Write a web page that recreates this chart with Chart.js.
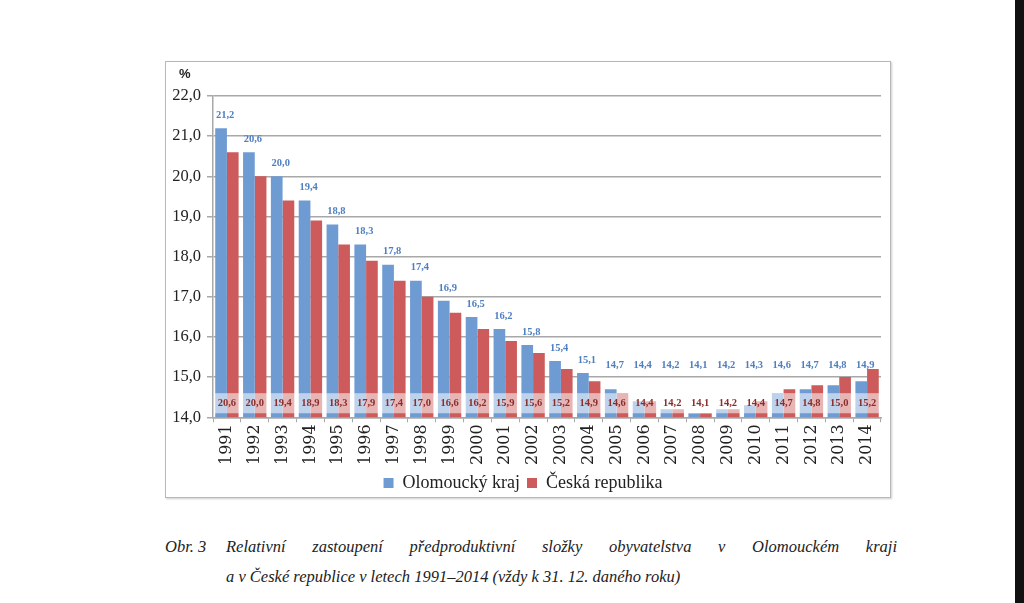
<!DOCTYPE html>
<html><head><meta charset="utf-8">
<script src="https://cdn.jsdelivr.net/npm/chart.js@4"></script>
<style>
html,body{margin:0;padding:0;background:#fff;width:1024px;height:603px;overflow:hidden;position:relative;font-family:"DejaVu Serif","Liberation Serif",serif;}
#frame{position:absolute;left:165px;top:61px;width:724px;height:435px;border:1px solid #b8b8b8;box-shadow:1px 1px 2px #ccc;}
#wrap{position:absolute;left:165px;top:61px;width:726px;height:443px;}
#pct{position:absolute;left:179px;top:66px;font-family:"Liberation Sans",sans-serif;font-weight:bold;font-size:13px;color:#222;}
.cap{position:absolute;font-family:"Liberation Serif",serif;font-style:italic;font-size:16.5px;color:#222;}
#edge{position:absolute;left:1015px;top:0;width:9px;height:603px;background:#111;}
</style></head>
<body>
<div id="frame"></div>
<div id="wrap"><canvas id="c"></canvas></div>
<div id="pct">%</div>
<div class="cap" style="left:165px;top:537px;">Obr. 3</div>
<div class="cap" style="left:226px;top:537px;width:671px;text-align:justify;text-align-last:justify;">Relativní zastoupení předproduktivní složky obyvatelstva v Olomouckém kraji</div>
<div class="cap" style="left:226px;top:567px;">a v České republice v letech 1991–2014 (vždy k 31. 12. daného roku)</div>
<div id="edge"></div>
<script>
const years = ['1991','1992','1993','1994','1995','1996','1997','1998','1999','2000','2001','2002','2003','2004','2005','2006','2007','2008','2009','2010','2011','2012','2013','2014'];
const olomoucky = [21.2,20.6,20.0,19.4,18.8,18.3,17.8,17.4,16.9,16.5,16.2,15.8,15.4,15.1,14.7,14.4,14.2,14.1,14.2,14.3,14.6,14.7,14.8,14.9];
const cr = [20.6,20.0,19.4,18.9,18.3,17.9,17.4,17.0,16.6,16.2,15.9,15.6,15.2,14.9,14.6,14.4,14.2,14.1,14.2,14.4,14.7,14.8,15.0,15.2];
const seriesNames = ['Olomoucký kraj','Česká republika'];
const yTicks = [14,15,16,17,18,19,20,21,22];

const fmt = v => v.toFixed(1).replace('.', ',');

const labelPlugin = {
  id:'labels',
  afterDatasetsDraw(chart){
    const ctx = chart.ctx, y = chart.scales.y, a = chart.chartArea;
    const top = y.getPixelForValue(14.6), bot = y.getPixelForValue(14.1);
    ctx.save();
    ctx.fillStyle = 'rgba(255,255,255,0.55)';
    ctx.fillRect(a.left+1, top, a.right-a.left-1, bot-top);
    ctx.textAlign='center';
    ctx.textBaseline='middle';
    ctx.font = 'bold 10.5px "Liberation Serif", serif';
    const m0 = chart.getDatasetMeta(0), m1 = chart.getDatasetMeta(1);
    const ly = y.getPixelForValue(14.36);
    const floorY = y.getPixelForValue(15.3);
    m0.data.forEach((b,i)=>{
      ctx.fillStyle = '#4f7fc0';
      ctx.fillText(fmt(olomoucky[i]), b.x + 4, Math.min(b.y - 13, floorY));
      const r = m1.data[i];
      ctx.fillStyle = '#8a2d2d';
      ctx.fillText(fmt(cr[i]), (b.x + r.x)/2, ly);
    });
    ctx.restore();
  }
};

new Chart(document.getElementById('c'), {
  type:'bar',
  data:{labels:years, datasets:[
    {label:seriesNames[0], data:olomoucky, backgroundColor:'#6f9bd3', categoryPercentage:0.84, barPercentage:1.0},
    {label:seriesNames[1], data:cr, backgroundColor:'#cd5b5b', categoryPercentage:0.84, barPercentage:1.0}
  ]},
  options:{
    responsive:true, maintainAspectRatio:false, animation:false,
    layout:{padding:{left:0,right:10,top:35,bottom:2}},
    plugins:{
      tooltip:{enabled:false},
      legend:{position:'bottom', labels:{boxWidth:10, boxHeight:10, padding:7, color:'#222', font:{family:'"Liberation Serif", serif', size:18}}}
    },
    scales:{
      y:{min:14,max:22,
        afterFit(s){ s.width = 48; },
        afterBuildTicks(s){ s.ticks = yTicks.map(v=>({value:v})); },
        ticks:{callback:v=>fmt(v), color:'#222', padding:6, font:{family:'"Liberation Serif", serif', size:16.5}},
        grid:{color:'#a8a8a8', lineWidth:1.5, tickLength:6, drawTicks:true},
        border:{color:'#a8a8a8', width:1.5}
      },
      x:{
        ticks:{minRotation:90,maxRotation:90,color:'#222',padding:2,font:{family:'"DejaVu Serif", serif', size:16}},
        grid:{display:true, drawOnChartArea:false, offset:true, color:'#a8a8a8', tickLength:5},
        border:{color:'#a8a8a8', width:1.5}
      }
    }
  },
  plugins:[labelPlugin]
});
</script>
</body></html>
